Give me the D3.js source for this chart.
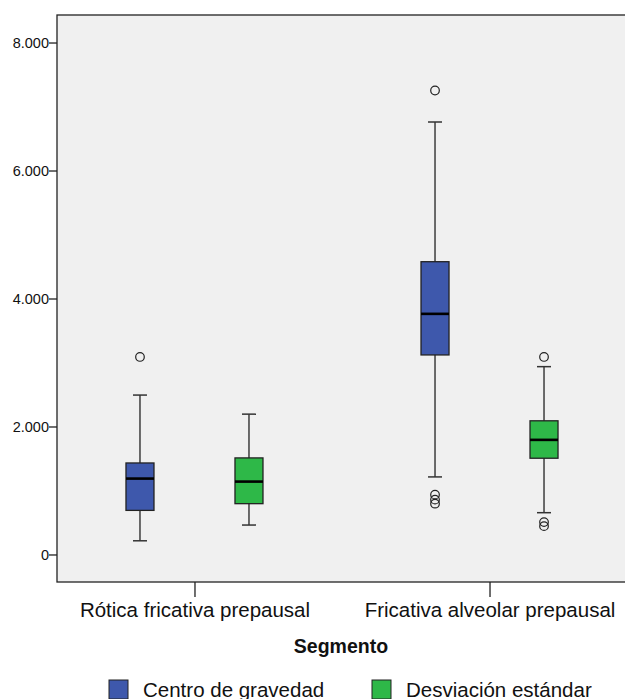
<!DOCTYPE html>
<html>
<head>
<meta charset="utf-8">
<script src="https://d3js.org/d3.v7.min.js"></script>
<style>
  body { margin: 0; background: #fff; }
  svg { font-family: "Liberation Sans", Arial, sans-serif; }
</style>
</head>
<body>
<div id="chart"></div>
<script>
// Values.
const categories = ["Rótica fricativa prepausal", "Fricativa alveolar prepausal"];
const seriesNames = ["Centro de gravedad", "Desviación estándar"];
const seriesColors = ["#3e58ac", "#2eb848"];
// [whiskerLow, q1, median, q3, whiskerHigh] per category, per series
const centroStats = [[214, 689, 1186, 1430, 2491], [1212, 3118, 3760, 4575, 6758]];
const desvStats = [[460, 794, 1139, 1509, 2193], [653, 1504, 1791, 2089, 2935]];
const centroOutliers = [[3087], [7250, 935, 857, 794]];
const desvOutliers = [[], [3087, 506, 443]];
const yTicks = [0, 2000, 4000, 6000, 8000];

const width = 625, height = 699;
const margin = {top: 15, left: 57, right: -2, bottom: 117};

const svg = d3.select("#chart").append("svg")
    .attr("width", width)
    .attr("height", height);

const x0 = d3.scalePoint(categories, [margin.left, width - margin.right]).padding(0.466);
const x1 = d3.scalePoint(seriesNames, [-54.5, 54.5]);
const y = d3.scaleLinear([-430, 8430], [height - margin.bottom, margin.top]);

// Plot background
svg.append("rect")
    .attr("x", margin.left)
    .attr("y", margin.top)
    .attr("width", width - margin.right - margin.left)
    .attr("height", height - margin.bottom - margin.top)
    .attr("fill", "#f0f0f0")
    .attr("stroke", "#222")
    .attr("stroke-width", 1.3);

// Y axis
const yAxis = svg.append("g")
    .attr("transform", `translate(${margin.left},0)`)
    .call(d3.axisLeft(y).tickValues(yTicks).tickSize(8).tickSizeOuter(0)
        .tickFormat(d => d === 0 ? "0" : (d / 1000).toFixed(3)));
yAxis.select(".domain").remove();
yAxis.selectAll("line").attr("stroke", "#222").attr("stroke-width", 1.3);
yAxis.selectAll("text").attr("font-size", 14.5).attr("fill", "#111")
    .attr("x", -8).attr("font-family", "Liberation Sans, Arial, sans-serif");

// X axis
const xAxis = svg.append("g")
    .attr("transform", `translate(0,${height - margin.bottom})`)
    .call(d3.axisBottom(x0).tickSize(15).tickSizeOuter(0));
xAxis.select(".domain").remove();
xAxis.selectAll("line").attr("stroke", "#222").attr("stroke-width", 1.3);
xAxis.selectAll("text").attr("font-size", 20.5).attr("fill", "#111")
    .attr("dy", null).attr("y", 35)
    .attr("font-family", "Liberation Sans, Arial, sans-serif");

svg.append("text")
    .attr("x", (margin.left + width - margin.right) / 2 - 1)
    .attr("y", 653)
    .attr("text-anchor", "middle")
    .attr("font-size", 19.5)
    .attr("font-weight", "bold")
    .attr("fill", "#111")
    .text("Segmento");

// Boxes
const boxW = 28;
const series = [
    {name: seriesNames[0], stats: centroStats, outliers: centroOutliers, color: seriesColors[0]},
    {name: seriesNames[1], stats: desvStats, outliers: desvOutliers, color: seriesColors[1]}
];

series.forEach(s => {
    categories.forEach((c, i) => {
        const cx = x0(c) + x1(s.name);
        const [lo, q1, med, q3, hi] = s.stats[i];
        const g = svg.append("g");
        g.append("line")
            .attr("x1", cx).attr("x2", cx)
            .attr("y1", y(lo)).attr("y2", y(hi))
            .attr("stroke", "#222").attr("stroke-width", 1.3);
        [lo, hi].forEach(v => {
            g.append("line")
                .attr("x1", cx - 7).attr("x2", cx + 7)
                .attr("y1", y(v)).attr("y2", y(v))
                .attr("stroke", "#333").attr("stroke-width", 1.5);
        });
        g.append("rect")
            .attr("x", cx - boxW / 2)
            .attr("y", y(q3))
            .attr("width", boxW)
            .attr("height", y(q1) - y(q3))
            .attr("fill", s.color)
            .attr("stroke", "#222")
            .attr("stroke-width", 1.3);
        g.append("line")
            .attr("x1", cx - boxW / 2).attr("x2", cx + boxW / 2)
            .attr("y1", y(med)).attr("y2", y(med))
            .attr("stroke", "#000").attr("stroke-width", 2.6);
        s.outliers[i].forEach(v => {
            g.append("circle")
                .attr("cx", cx).attr("cy", y(v)).attr("r", 4.3)
                .attr("fill", "none").attr("stroke", "#222").attr("stroke-width", 1.2);
        });
    });
});

// Legend
const legendX = [109, 372];
const legend = svg.append("g");
series.forEach((s, i) => {
    legend.append("rect")
        .attr("x", legendX[i]).attr("y", 680)
        .attr("width", 19).attr("height", 19)
        .attr("fill", s.color).attr("stroke", "#222").attr("stroke-width", 1);
    legend.append("text")
        .attr("x", legendX[i] + 34).attr("y", 697)
        .attr("font-size", 20.5).attr("fill", "#111")
        .text(s.name);
});
</script>
</body>
</html>
